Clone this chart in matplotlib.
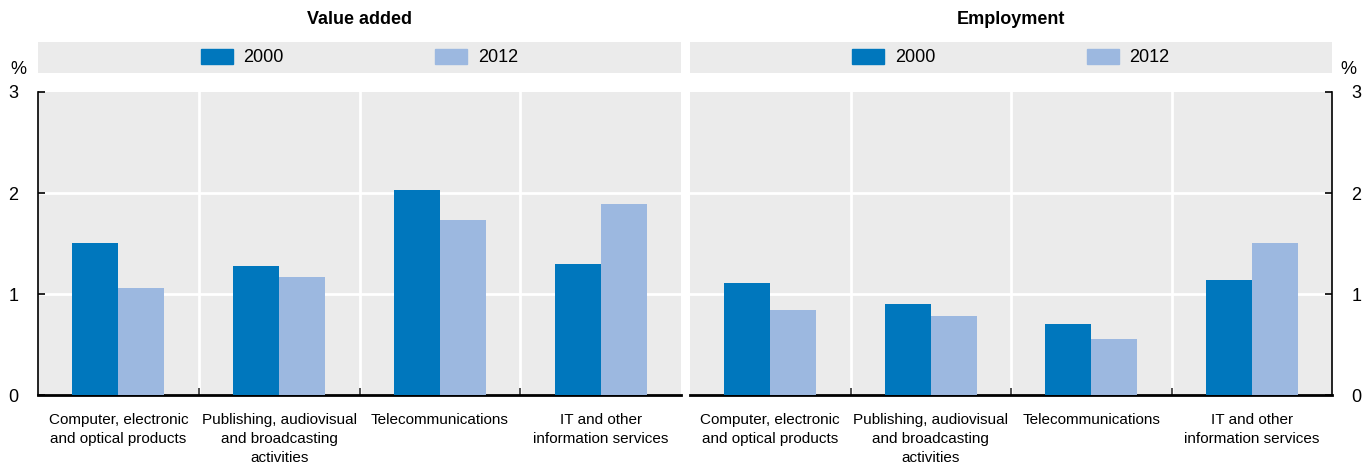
import matplotlib.pyplot as plt
import numpy as np
from matplotlib.patches import Patch

categories = ["Computer, electronic\nand optical products",
              "Publishing, audiovisual\nand broadcasting\nactivities",
              "Telecommunications",
              "IT and other\ninformation services"]
years = ["2000", "2012"]
value_added_2000 = [1.50, 1.28, 2.03, 1.30]
value_added_2012 = [1.06, 1.17, 1.73, 1.89]
employment_2000 = [1.11, 0.90, 0.70, 1.14]
employment_2012 = [0.84, 0.78, 0.55, 1.50]
panel_titles = ["Value added", "Employment"]

c2000 = "#0077bd"
c2012 = "#9cb8e0"
bg = "#ebebeb"

plt.rcParams['font.family'] = ['Liberation Sans Narrow', 'Liberation Sans', 'DejaVu Sans']

W, H = 1368, 465
fig = plt.figure(figsize=(W / 100, H / 100), dpi=100)


def fx(px):
    return px / W


def fy(px):
    return 1 - px / H


panels = [
    (38, 681, value_added_2000, value_added_2012, "left"),
    (690, 1332, employment_2000, employment_2012, "right"),
]

x = np.arange(len(categories))
w = 0.286

for i, (x0, x1, d0, d1, side) in enumerate(panels):
    ax = fig.add_axes([fx(x0), fy(395), fx(x1 - x0), fy(92) - fy(395)])
    ax.set_facecolor(bg)
    ax.bar(x - w / 2, d0, w, color=c2000, zorder=3)
    ax.bar(x + w / 2, d1, w, color=c2012, zorder=3)
    ax.set_xlim(-0.5, len(categories) - 0.5)
    ax.set_ylim(0, 3)
    ax.set_yticks([0, 1, 2, 3])
    ax.set_yticklabels(["0", "1", "2", "3"], fontsize=13)
    ax.set_xticks(x)
    ax.set_xticklabels(categories, fontsize=11, linespacing=1.45)
    ax.tick_params(axis='x', length=0, pad=13)
    ax.set_xticks(np.arange(0.5, len(categories) - 0.5, 1), minor=True)
    ax.tick_params(axis='x', which='minor', direction='in', length=5, width=1.2, color='#333333')
    for b in np.arange(0.5, len(categories) - 0.5, 1):
        ax.axvline(b, color='white', lw=2, zorder=1)
    for yv in [1, 2]:
        ax.axhline(yv, color='white', lw=2, zorder=1)
    for s in ax.spines.values():
        s.set_visible(False)
    ax.spines['bottom'].set_visible(True)
    ax.spines['bottom'].set_linewidth(2)
    if side == "left":
        ax.spines['left'].set_visible(True)
        ax.spines['left'].set_linewidth(1.2)
    else:
        ax.yaxis.tick_right()
        ax.spines['right'].set_visible(True)
        ax.spines['right'].set_linewidth(1.2)
    ax.tick_params(axis='y', direction='in', length=5, width=1.2, pad=14)

    # legend band
    band = fig.add_axes([fx(x0), fy(73), fx(x1 - x0), fy(42) - fy(73)])
    band.set_facecolor(bg)
    band.set_xticks([])
    band.set_yticks([])
    for s in band.spines.values():
        s.set_visible(False)
    handles = [Patch(color=c2000), Patch(color=c2012)]
    band.legend(handles, years, loc='center', ncol=2, frameon=False, fontsize=13,
                handlelength=1.75, handleheight=0.95, handletextpad=0.6,
                columnspacing=8.4, borderpad=0)

    fig.text(fx((x0 + x1) / 2), fy(20), panel_titles[i], ha='center', va='center',
             fontsize=13, fontweight='bold')

fig.text(fx(18), fy(70), "%", ha='center', va='center', fontsize=13)
fig.text(fx(1348), fy(70), "%", ha='center', va='center', fontsize=13)

plt.savefig("out.png", dpi=100)
